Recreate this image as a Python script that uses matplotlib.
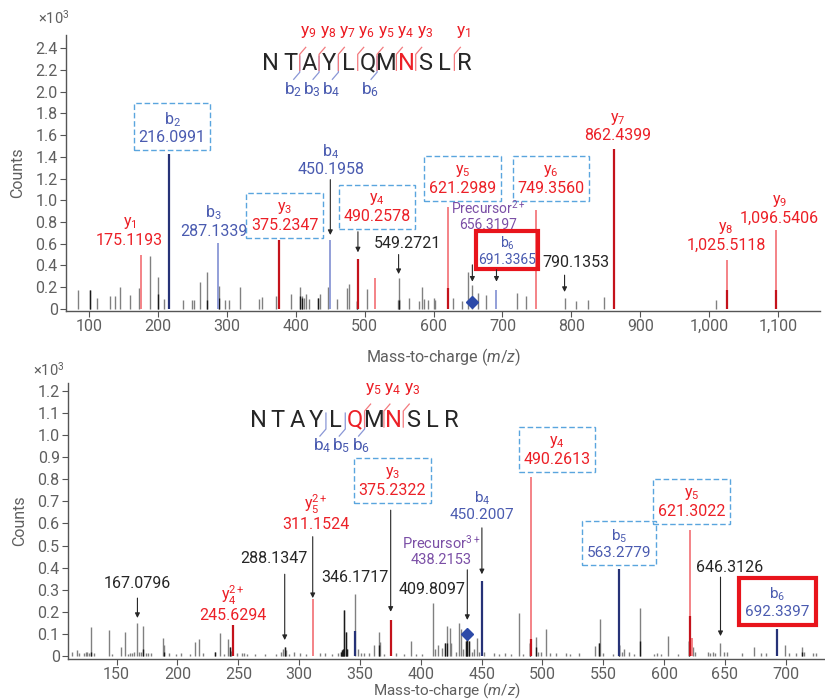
import numpy as np
import matplotlib.pyplot as plt

plt.rcParams['font.family'] = ['Roboto', 'DejaVu Sans']
plt.rcParams['mathtext.fontset'] = 'custom'
plt.rcParams['mathtext.rm'] = 'Roboto'
plt.rcParams['mathtext.it'] = 'Roboto:italic'
plt.rcParams['mathtext.default'] = 'regular'

RED, DRED, LRED = '#ec2027', '#c4121b', '#f37a7e'
BLUE, DBLUE, LBLUE = '#4a5bb0', '#263277', '#8a97d6'
PURPLE = '#7b4fa6'
GREY, DARK, INK = '#808080', '#1a1a1a', '#262626'
BOXC = '#5aa5de'

peptide = 'NTAYLQMNSLR'

# ---- top spectrum (2+ precursor) ----
top_mz = [83.6, 102, 112, 131, 138, 145, 159, 173, 189, 200,
          209, 237, 250, 252, 260.6, 271.7, 288.8, 297, 302.7, 319,
          346, 350.5, 371, 393, 406.7, 409, 411.6, 415, 419.7, 433,
          435, 447, 460, 474, 478, 489.2, 503.5, 548, 549.27, 550.5,
          564.4, 579, 583.8, 586.7, 592.5, 600, 602, 627.6, 641, 650,
          656.32, 665, 676.6, 721, 733.8, 790.14, 807, 824, 848, 1010]
top_int = [0.175, 0.17, 0.10, 0.12, 0.12, 0.20, 0.125, 0.19, 0.49, 0.29,
           0.09, 0.08, 0.085, 0.085, 0.25, 0.34, 0.21, 0.08, 0.08, 0.20,
           0.09, 0.11, 0.12, 0.14, 0.20, 0.12, 0.10, 0.14, 0.09, 0.10,
           0.14, 0.20, 0.09, 0.19, 0.23, 0.07, 0.18, 0.08, 0.28, 0.09,
           0.10, 0.07, 0.20, 0.09, 0.08, 0.10, 0.08, 0.10, 0.07, 0.34,
           0.22, 0.15, 0.13, 0.15, 0.12, 0.10, 0.07, 0.08, 0.11, 0.08]
top_dark_mz = [102, 200, 271.7, 288.8, 406.7, 409, 433, 489.2, 549.27]
top_dark_int = [0.17, 0.14, 0.08, 0.10, 0.12, 0.10, 0.10, 0.07, 0.08]

top_ion_mz = [175.1193, 216.0991, 287.1339, 375.2347, 450.1958, 490.2578, 514.6,
              621.2989, 691.3365, 749.3560, 862.4399, 1025.5118, 1096.5406]
top_ion_int = [0.50, 1.43, 0.61, 0.63, 0.63, 0.46, 0.28,
               0.94, 0.17, 0.91, 1.47, 0.45, 0.73]
top_ion_base = [0, 1.43, 0, 0.63, 0, 0.46, 0,
                0.19, 0, 0, 1.47, 0.17, 0.17]
top_ion_type = ['y', 'b', 'b', 'y', 'b', 'y', 'y', 'y', 'b', 'y', 'y', 'y', 'y']
top_precursor = (656.3197, 0.06)
top_b_frag = [2, 3, 4, 6]
top_y_frag = [9, 8, 7, 6, 5, 4, 3, 1]
top_red_res = [7]

# ---- bottom spectrum (3+ precursor) ----
bot_mz = [113, 117.4, 119, 123, 124.5, 126, 127.5, 129.1, 131.5, 143.4,
          146, 153.3, 157.1, 159, 161, 162.5, 164, 167.08, 168.5, 170,
          171.6, 174.5, 176, 178, 187.8, 189, 193, 199, 203, 210,
          214, 217.4, 221, 231, 235, 238, 241.5, 243, 244, 249,
          253, 255, 257, 264, 272, 281, 285, 286.5, 288.13, 289.5,
          292, 296, 301, 306, 317, 321, 327, 332, 334.5, 335.5,
          336.3, 337.1, 338.2, 339.3, 346.17, 348, 351, 353, 357, 361.7,
          365.6, 366.8, 370, 380, 386, 391.7, 396, 401, 409.81, 412,
          414.5, 417, 419.8, 421.7, 423.8, 425, 429, 431.6, 433, 435,
          437, 438.2, 439.2, 442, 444, 446, 448, 452, 460, 464,
          469, 474, 481, 484, 489.5, 494.5, 496, 499, 502.6, 506,
          511, 519, 523, 530, 543, 546.3, 546.9, 550, 558, 563.0,
          565.5, 567, 571.5, 575, 580.4, 592, 594, 597, 603.4, 611,
          620.8, 623.3, 625, 636, 638, 640, 642, 646.31, 649, 652,
          664, 673.7, 680, 684, 699, 703, 708, 713.7, 715, 722,
          725]
bot_int = [0.018, 0.027, 0.012, 0.015, 0.02, 0.02, 0.015, 0.133, 0.012, 0.118,
           0.008, 0.042, 0.11, 0.01, 0.015, 0.015, 0.02, 0.151, 0.02, 0.02,
           0.136, 0.012, 0.012, 0.012, 0.081, 0.05, 0.015, 0.01, 0.012, 0.01,
           0.063, 0.079, 0.012, 0.02, 0.104, 0.01, 0.075, 0.04, 0.022, 0.012,
           0.012, 0.015, 0.01, 0.01, 0.01, 0.01, 0.018, 0.03, 0.042, 0.025,
           0.01, 0.02, 0.015, 0.01, 0.015, 0.012, 0.01, 0.012, 0.02, 0.025,
           0.03, 0.208, 0.11, 0.03, 0.28, 0.03, 0.015, 0.012, 0.012, 0.05,
           0.11, 0.065, 0.01, 0.012, 0.01, 0.068, 0.01, 0.01, 0.238, 0.03,
           0.05, 0.035, 0.06, 0.136, 0.127, 0.06, 0.02, 0.151, 0.12, 0.03,
           0.07, 0.087, 0.07, 0.02, 0.03, 0.08, 0.02, 0.02, 0.015, 0.01,
           0.015, 0.01, 0.196, 0.01, 0.06, 0.085, 0.02, 0.02, 0.121, 0.015,
           0.015, 0.015, 0.01, 0.015, 0.047, 0.06, 0.169, 0.015, 0.01, 0.05,
           0.02, 0.03, 0.02, 0.01, 0.216, 0.01, 0.015, 0.01, 0.09, 0.01,
           0.068, 0.04, 0.02, 0.02, 0.015, 0.02, 0.015, 0.057, 0.02, 0.02,
           0.015, 0.04, 0.012, 0.015, 0.05, 0.012, 0.015, 0.04, 0.02, 0.012,
           0.015]
bot_dark_mz = [129.1, 171.6, 189, 231, 243, 288.13, 334.5, 335.5, 336.3, 337.1,
               338.2, 339.3, 365.6, 419.8, 421.7, 437, 438.2, 439.2, 489.5, 494.5,
               546.3, 563.0, 580.4, 620.8, 713.7]
bot_dark_int = [0.02, 0.03, 0.02, 0.02, 0.04, 0.042, 0.02, 0.025, 0.03, 0.208,
                0.11, 0.03, 0.05, 0.06, 0.06, 0.07, 0.087, 0.07, 0.06, 0.04,
                0.06, 0.05, 0.07, 0.068, 0.02]

bot_ion_mz = [245.6294, 311.1524, 346.17, 375.2322, 450.2007, 490.2613,
              563.2779, 621.3022, 622.6, 692.3397]
bot_ion_int = [0.142, 0.256, 0.115, 0.163, 0.34, 0.81, 0.392, 0.57, 0.08, 0.124]
bot_ion_base = [0.142, 0, 0.115, 0.163, 0.34, 0.077, 0.392, 0.18, 0, 0.124]
bot_ion_type = ['y', 'y', 'b', 'y', 'b', 'y', 'b', 'y', 'y', 'b']
bot_precursor = (438.2153, 0.10)
bot_b_frag = [4, 5, 6]
bot_y_frag = [5, 4, 3]
bot_red_res = [5, 7]

# labels: x, y (text centre), ion line, value, colour, box, font size
top_labels = [
    (158.6, 0.71, 'y$_1$', '175.1193', RED, None, 11.5),
    (220.5, 1.67, 'b$_2$', '216.0991', BLUE, 'dash', 11.5),
    (280.5, 0.81, 'b$_3$', '287.1339', BLUE, None, 11.5),
    (384.0, 0.85, 'y$_3$', '375.2347', RED, 'dash', 11.5),
    (451.0, 1.375, 'b$_4$', '450.1958', BLUE, None, 11.5),
    (518.0, 0.93, 'y$_4$', '490.2578', RED, 'dash', 11.5),
    (562.6, 0.605, None, '549.2721', INK, None, 11.5),
    (642.5, 1.19, 'y$_5$', '621.2989', RED, 'dash', 11.5),
    (770.6, 1.19, 'y$_6$', '749.3560', RED, 'dash', 11.5),
    (679.6, 0.86, 'Precursor$^{2+}$', '656.3197', PURPLE, None, 10),
    (706.7, 0.535, 'b$_6$', '691.3365', BLUE, 'red', 10),
    (806.0, 0.425, None, '790.1353', INK, None, 11.5),
    (866.8, 1.675, 'y$_7$', '862.4399', RED, None, 11.5),
    (1024.5, 0.67, 'y$_8$', '1,025.5118', RED, None, 11.5),
    (1102.4, 0.915, 'y$_9$', '1,096.5406', RED, None, 11.5),
]
top_arrows = [(450.1958, 1.19, 0.68), (490.2578, 0.71, 0.52), (549.2721, 0.50, 0.32),
              (656.3197, 0.405, 0.25), (691.3365, 0.36, 0.25), (790.1353, 0.31, 0.155)]

bot_labels = [
    (167.0, 0.329, None, '167.0796', INK, None, 11.5),
    (245.8, 0.238, 'y$_4^{2+}$', '245.6294', RED, None, 11.5),
    (279.3, 0.44, None, '288.1347', INK, None, 11.5),
    (313.6, 0.65, 'y$_5^{2+}$', '311.1524', RED, None, 11.5),
    (345.9, 0.357, None, '346.1717', INK, None, 11.5),
    (376.5, 0.79, 'y$_3$', '375.2322', RED, 'dash', 11.5),
    (408.9, 0.30, None, '409.8097', INK, None, 11.5),
    (417.0, 0.477, 'Precursor$^{3+}$', '438.2153', PURPLE, None, 10.5),
    (450.5, 0.68, 'b$_4$', '450.2007', BLUE, None, 11),
    (511.9, 0.93, 'y$_4$', '490.2613', RED, 'dash', 11.5),
    (562.9, 0.508, 'b$_5$', '563.2779', BLUE, 'dash', 11),
    (622.6, 0.695, 'y$_5$', '621.3022', RED, 'dash', 11.5),
    (654.0, 0.40, None, '646.3126', INK, None, 11.5),
    (693.0, 0.243, 'b$_6$', '692.3397', BLUE, 'red', 11),
]
bot_arrows = [(167.0796, 0.262, 0.172), (288.1347, 0.37, 0.072), (311.1524, 0.54, 0.262),
              (375.2322, 0.66, 0.20), (438.2153, 0.39, 0.163), (450.2007, 0.58, 0.37),
              (646.3126, 0.357, 0.09)]


def draw_peaks(ax, mz, inten, dark_mz, dark_int, ion_mz, ion_int, ion_base, ion_type, prec):
    ax.vlines(mz, 0, inten, colors=GREY, lw=1.0, zorder=2)
    ax.vlines(dark_mz, 0, dark_int, colors=DARK, lw=1.0, zorder=2)
    light = [LRED if t == 'y' else LBLUE for t in ion_type]
    dark = [DRED if t == 'y' else DBLUE for t in ion_type]
    ax.vlines(ion_mz, 0, ion_int, colors=light, lw=1.3, zorder=3)
    for x, b, c in zip(ion_mz, ion_base, dark):
        if b > 0:
            ax.vlines(x, 0, b, colors=c, lw=1.6, zorder=4)
    ax.plot([prec[0]], [prec[1]], marker='D', ms=6, color='#2d4aa8', zorder=5)


def draw_labels(ax, labels, arrows, red_pad):
    for x, y, ion, val, col, box, fs in labels:
        txt = val if ion is None else ion + '\n' + val
        bbox = None
        if box == 'dash':
            bbox = dict(boxstyle='square,pad=0.3', fc='none', ec=BOXC, lw=1.0, ls=(0, (4, 2)))
        elif box == 'red':
            bbox = dict(boxstyle='square,pad=%.2f' % red_pad, fc='none', ec='#e8141c', lw=3.0)
        ax.text(x, y, txt, ha='center', va='center', ma='center', fontsize=fs,
                color=col, bbox=bbox, linespacing=1.15, zorder=6)
    for x, y0, y1 in arrows:
        ax.annotate('', xy=(x, y1), xytext=(x, y0),
                    arrowprops=dict(arrowstyle='-|>', color=INK, lw=0.8,
                                    mutation_scale=7, shrinkA=0, shrinkB=0), zorder=6)


def draw_sequence(ax, x0, y0, sx, sy, b_frag, y_frag, red_res, b_off):
    dx = 19.33 / sx
    px = lambda p: p / sx
    py = lambda p: p / sy
    for i, ch in enumerate(peptide):
        ax.text(x0 + i * dx, y0, ch, ha='center', va='center', fontsize=17,
                color=RED if i in red_res else INK, zorder=6)
    n = len(peptide)
    for k in b_frag:
        g = x0 + (k - 0.5) * dx
        ax.plot([g, g, g - px(6)], [y0 + py(7), y0 - py(9), y0 - py(16)],
                color=LBLUE, lw=0.9, zorder=6)
        ax.text(g + px(b_off), y0 - py(26), 'b$_{%d}$' % k, ha='center', va='center',
                fontsize=12.5, color=BLUE, zorder=6)
    for k in y_frag:
        g = x0 + (n - k - 0.5) * dx
        ax.plot([g, g, g + px(6)], [y0 - py(7), y0 + py(9), y0 + py(16)],
                color=LRED, lw=0.9, zorder=6)
        ax.text(g + px(9), y0 + py(31), 'y$_{%d}$' % k, ha='center', va='center',
                fontsize=12.5, color=RED, zorder=6)


def style(ax, xlim, ylim, xticks, yticks, xlab_y, xlab_fs, mult_xy):
    ax.set_xlim(xlim)
    ax.set_ylim(ylim)
    for s in ['top', 'right']:
        ax.spines[s].set_visible(False)
    for s in ['left', 'bottom']:
        ax.spines[s].set_color('#555555')
        ax.spines[s].set_linewidth(1.0)
    ax.set_xticks(xticks)
    ax.set_xticklabels([f'{v:,}' for v in xticks])
    ax.set_yticks(yticks)
    ax.set_yticklabels(['0' if v == 0 else f'{v:.1f}' for v in yticks])
    ax.tick_params(labelsize=11.5, color='#555555', labelcolor='#5f5f5f',
                   length=4, width=0.8, pad=2)
    ax.set_ylabel('Counts', fontsize=11.5, color='#5f5f5f')
    ax.yaxis.set_label_coords(-0.054, 0.5)
    ax.set_xlabel('Mass-to-charge ($\\mathit{m/z}$)', fontsize=xlab_fs, color='#5f5f5f')
    ax.xaxis.set_label_coords(0.5, xlab_y)
    ax.text(mult_xy[0], mult_xy[1], '×10$^3$', transform=ax.transAxes, ha='center',
            va='center', fontsize=10.5, color='#5f5f5f')


fig = plt.figure(figsize=(8.25, 7), dpi=100)
ax1 = fig.add_axes([0.08, 0.556, 0.914, 0.394])
ax2 = fig.add_axes([0.0824, 0.0586, 0.9176, 0.394])

draw_peaks(ax1, top_mz, top_int, top_dark_mz, top_dark_int,
           top_ion_mz, top_ion_int, top_ion_base, top_ion_type, top_precursor)
draw_labels(ax1, top_labels, top_arrows, 0.12)
draw_sequence(ax1, 363.7, 2.262, 0.689, 108.6, top_b_frag, top_y_frag, top_red_res, -7)
style(ax1, (66.6, 1160.9), (-0.0184, 2.523), list(range(100, 1101, 100)),
      np.round(np.arange(0, 2.41, 0.2), 1), -0.127, 11.5, (-0.016, 1.062))

draw_peaks(ax2, bot_mz, bot_int, bot_dark_mz, bot_dark_int,
           bot_ion_mz, bot_ion_int, bot_ion_base, bot_ion_type, bot_precursor)
draw_labels(ax2, bot_labels, bot_arrows, 0.4)
draw_sequence(ax2, 266.4, 1.068, 1.2166, 221.0, bot_b_frag, bot_y_frag, bot_red_res, -4)
style(ax2, (110.0, 732.2), (-0.0136, 1.235), list(range(150, 701, 50)),
      np.round(np.arange(0, 1.21, 0.1), 1), -0.08, 11, (-0.025, 1.05))

fig.savefig('out.png', dpi=100)
